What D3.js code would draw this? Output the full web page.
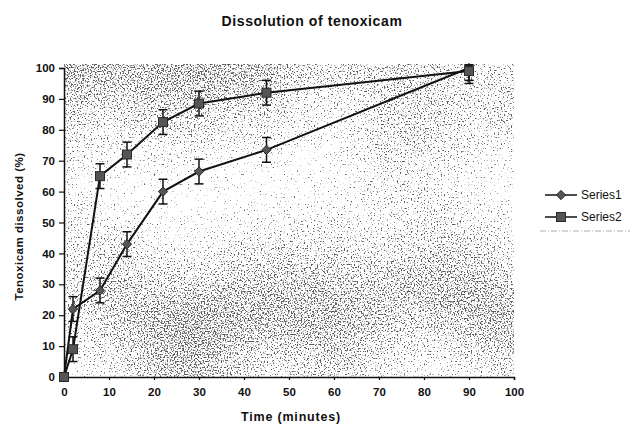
<!DOCTYPE html>
<html>
<head>
<meta charset="utf-8">
<script src="https://cdn.jsdelivr.net/npm/d3@7"></script>
<style>
  body { margin: 0; background: #fff; }
  text { font-family: "Liberation Sans", Arial, sans-serif; font-weight: bold; fill: #111; }
</style>
</head>
<body>
<div id="chart"></div>
<script>
var chart_width = 630;
var chart_height = 424;

// Data
var times = [0, 2, 8, 14, 22, 30, 45, 90];
var series1 = [0, 22, 28, 43, 60, 66.5, 73.5, 100];
var series2 = [0, 9, 65, 72, 82.5, 88.5, 92, 99];
var errors1 = [0, 4, 4, 4, 4, 4, 4, 4];
var errors2 = [0, 4, 4, 4, 4, 4, 4, 4];
var series_names = ['Series1', 'Series2'];
var x_ticks = [0, 10, 20, 30, 40, 50, 60, 70, 80, 90, 100];
var y_ticks = [0, 10, 20, 30, 40, 50, 60, 70, 80, 90, 100];

var svg = d3.select('#chart')
            .append('svg')
            .attr('width', chart_width)
            .attr('height', chart_height);

//Scales
var x_scale = d3.scaleLinear()
                .domain([0, 100])
                .range([64, 514]);

var y_scale = d3.scaleLinear()
                .domain([0, 100])
                .range([377, 68]);

//Speckled scan texture for the plot area
var defs = svg.append('defs');
var filter = defs.append('filter')
    .attr('id', 'speckle')
    .attr('color-interpolation-filters', 'sRGB')
    .attr('x', 0).attr('y', 0).attr('width', '100%').attr('height', '100%');
filter.append('feTurbulence')
    .attr('type', 'fractalNoise')
    .attr('baseFrequency', 0.7)
    .attr('numOctaves', 1)
    .attr('seed', 7)
    .attr('result', 'fine');
filter.append('feTurbulence')
    .attr('type', 'fractalNoise')
    .attr('baseFrequency', 0.008)
    .attr('numOctaves', 1)
    .attr('seed', 5)
    .attr('result', 'coarse');
//keep only the red channel of each, fully opaque
filter.append('feColorMatrix')
    .attr('in', 'fine').attr('type', 'matrix')
    .attr('values', '1 0 0 0 0  1 0 0 0 0  1 0 0 0 0  0 0 0 0 1')
    .attr('result', 'fineR');
filter.append('feColorMatrix')
    .attr('in', 'coarse').attr('type', 'matrix')
    .attr('values', '1 0 0 0 0  1 0 0 0 0  1 0 0 0 0  0 0 0 0 1')
    .attr('result', 'coarseR');
filter.append('feComposite')
    .attr('in', 'fineR').attr('in2', 'coarseR')
    .attr('operator', 'arithmetic')
    .attr('k1', 0).attr('k2', 0.85).attr('k3', 0.3).attr('k4', 0)
    .attr('result', 'mix');
filter.append('feColorMatrix')
    .attr('in', 'mix')
    .attr('type', 'matrix')
    .attr('values', '0 0 0 0 0.15  0 0 0 0 0.15  0 0 0 0 0.15  10 0 0 0 -6.4');

svg.append('rect')
    .attr('x', x_scale(0))
    .attr('y', y_scale(101))
    .attr('width', x_scale(100) - x_scale(0))
    .attr('height', y_scale(0) - y_scale(101))
    .attr('fill', '#fff')
    .attr('opacity', 0.75)
    .attr('filter', 'url(#speckle)');

//Axes
var x_axis = d3.axisBottom(x_scale)
               .tickValues(x_ticks)
               .tickSize(3)
               .tickPadding(8);
var y_axis = d3.axisLeft(y_scale)
               .tickValues(y_ticks)
               .tickSize(5)
               .tickPadding(4);

var gx = svg.append('g')
    .attr('transform', 'translate(0,' + y_scale(0) + ')')
    .call(x_axis);
var gy = svg.append('g')
    .attr('transform', 'translate(' + x_scale(0) + ',0)')
    .call(y_axis);

[gx, gy].forEach((g) => {
    g.select('.domain').attr('stroke', '#111').attr('stroke-width', 1.5);
    g.selectAll('.tick line').attr('stroke', '#111').attr('stroke-width', 1.2);
    g.selectAll('.tick text')
        .attr('fill', '#111')
        .style('font-family', '"Liberation Sans", Arial, sans-serif')
        .style('font-weight', 'bold')
        .style('font-size', '11.5px');
});

//Titles
svg.append('text')
    .attr('x', 312)
    .attr('y', 26)
    .attr('text-anchor', 'middle')
    .style('font-size', '14px')
    .style('letter-spacing', '0.6px')
    .text('Dissolution of tenoxicam');

svg.append('text')
    .attr('x', 291)
    .attr('y', 421)
    .attr('text-anchor', 'middle')
    .style('font-size', '12.5px')
    .style('letter-spacing', '0.8px')
    .text('Time (minutes)');

svg.append('text')
    .attr('transform', 'translate(23,' + ((y_scale(0) + y_scale(100)) / 2 + 4) + ') rotate(-90)')
    .attr('text-anchor', 'middle')
    .style('font-size', '11.5px')
    .style('letter-spacing', '0.5px')
    .text('Tenoxicam dissolved (%)');

//Series
var all_series = [
    { name: series_names[0], values: series1, errors: errors1, marker: 'diamond' },
    { name: series_names[1], values: series2, errors: errors2, marker: 'square' }
];

var line = d3.line()
    .x((d) => x_scale(d[0]))
    .y((d) => y_scale(d[1]));

function drawMarker(g, type, cx, cy) {
    if (type === 'square') {
        g.append('rect')
            .attr('x', cx - 4.5).attr('y', cy - 4.5)
            .attr('width', 9).attr('height', 9)
            .attr('fill', '#555')
            .attr('stroke', '#2a2a2a')
            .attr('stroke-width', 1);
    } else {
        g.append('path')
            .attr('d', d3.symbol().type(d3.symbolDiamond2).size(55)())
            .attr('transform', 'translate(' + cx + ',' + cy + ')')
            .attr('fill', '#555')
            .attr('stroke', '#2a2a2a')
            .attr('stroke-width', 1);
    }
}

all_series.forEach((s) => {
    var pts = times.map((t, i) => [t, s.values[i], s.errors[i]]);
    var g = svg.append('g');

    //Error bars
    pts.forEach((p) => {
        if (p[2] === 0) return;
        var cx = x_scale(p[0]);
        var y1 = y_scale(p[1] - p[2]);
        var y2 = y_scale(Math.min(p[1] + p[2], 101));
        g.append('line').attr('x1', cx).attr('x2', cx).attr('y1', y1).attr('y2', y2)
            .attr('stroke', '#111').attr('stroke-width', 1.5);
        [y1, y2].forEach((yy) => {
            g.append('line').attr('x1', cx - 4.5).attr('x2', cx + 4.5).attr('y1', yy).attr('y2', yy)
                .attr('stroke', '#111').attr('stroke-width', 1.5);
        });
    });

    g.append('path')
        .datum(pts)
        .attr('d', line)
        .attr('fill', 'none')
        .attr('stroke', '#111')
        .attr('stroke-width', 2);

    pts.forEach((p) => {
        drawMarker(g, s.marker, x_scale(p[0]), y_scale(p[1]));
    });
});

//Legend
var legend = svg.append('g');
all_series.forEach((s, i) => {
    var ly = 195 + i * 22;
    legend.append('line')
        .attr('x1', 545).attr('x2', 577)
        .attr('y1', ly).attr('y2', ly)
        .attr('stroke', '#111').attr('stroke-width', 1.5);
    drawMarker(legend, s.marker, 561, ly);
    legend.append('text')
        .attr('x', 581)
        .attr('y', ly + 4)
        .style('font-size', '12px')
        .style('font-weight', 'normal')
        .text(s.name);
});
legend.append('line')
    .attr('x1', 540).attr('x2', 630)
    .attr('y1', 231).attr('y2', 231)
    .attr('stroke', '#999')
    .attr('stroke-width', 0.8)
    .attr('stroke-dasharray', '6,2,1,2');
</script>
</body>
</html>
